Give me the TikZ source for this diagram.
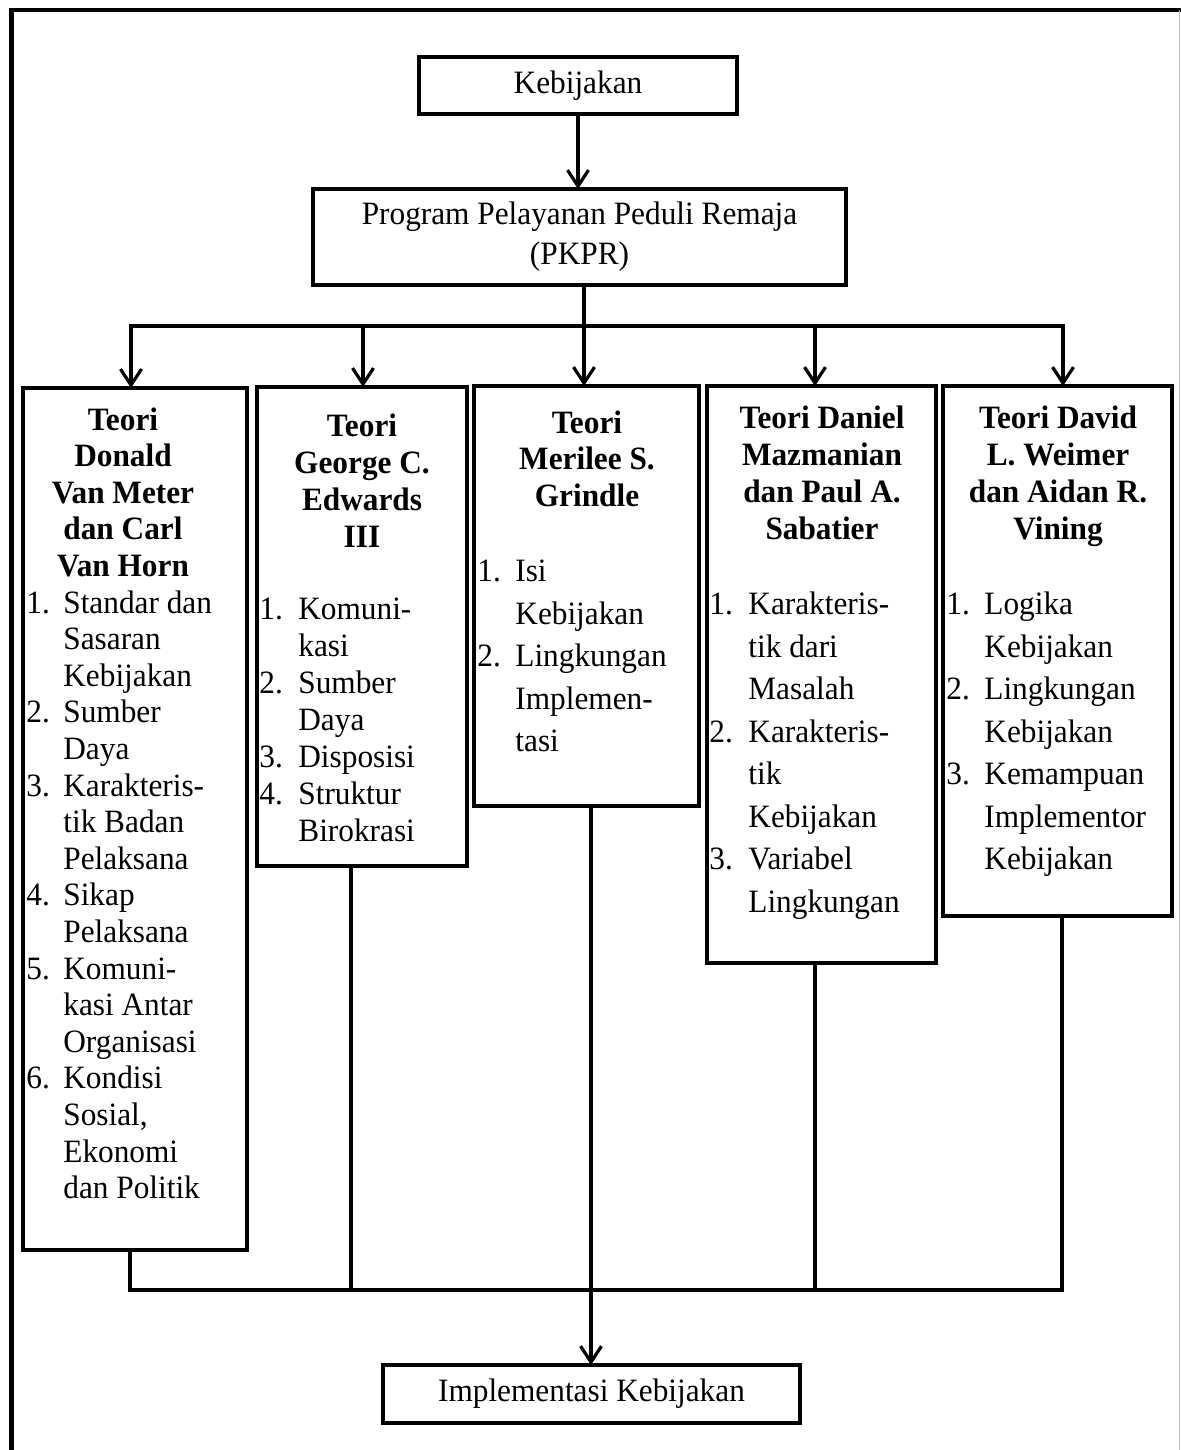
\documentclass[tikz,border=0pt]{standalone}
\usepackage{fontspec}
\setmainfont{Liberation Serif}[FakeStretch=0.96]
\usetikzlibrary{arrows.meta}
\begin{document}
\begin{tikzpicture}[x=0.5pt,y=-0.5pt,
  box/.style={draw, line width=1.8pt, inner sep=0pt, outer sep=0pt, rectangle},
  conn/.style={line width=1.6pt, line cap=rect},
  arr/.style={line width=1.6pt, -{Straight Barb[length=8pt,width=10.5pt]}},
  ttl/.style={inner sep=0pt, anchor=base, font=\fontsize{16.3pt}{#1}\selectfont\bfseries},
  ttl/.default=18.3pt,
  lst/.style={inner sep=0pt, anchor=base west, font=\fontsize{16.3pt}{#1}\selectfont},
  lst/.default=18.3pt,
  plain/.style={font=\fontsize{16.3pt}{20pt}\selectfont, align=center}]
\useasboundingbox (0,0) rectangle (1181,1450);
% outer frame
\draw[line width=2.2pt, line join=miter] (11.5,1450) -- (11.5,10) -- (1181,10);
\draw[gray!50, line width=0.6pt] (1179.5,10) -- (1179.5,1450);

% boxes
\node[box, plain, minimum width=159pt, minimum height=28.5pt] (k) at (578,85.5) {Kebijakan};
\node[box, plain, minimum width=266.5pt, minimum height=48pt] (p) at (579.5,237) {Program Pelayanan Peduli Remaja\\(PKPR)};
\node[box, minimum width=112pt, minimum height=431pt] (b1) at (135,819) {};
\node[box, minimum width=105pt, minimum height=239.5pt] (b2) at (362,626.5) {};
\node[box, minimum width=112.5pt, minimum height=210pt] (b3) at (586.5,596) {};
\node[box, minimum width=114.5pt, minimum height=288.5pt] (b4) at (821.5,674.5) {};
\node[box, minimum width=114.5pt, minimum height=265pt] (b5) at (1057.5,651) {};
\node[box, plain, minimum width=208.5pt, minimum height=29pt] (im) at (591.5,1394) {Implementasi Kebijakan};

% titles
\node[ttl] (h1) at (123,430) {\begin{tabular}[t]{@{}c@{}}Teori\\Donald\\Van Meter\\dan Carl\\Van Horn\end{tabular}};
\node[ttl=18.5pt] (h2) at (362,436) {\begin{tabular}[t]{@{}c@{}}Teori\\George C.\\Edwards\\III\end{tabular}};
\node[ttl=18.25pt] (h3) at (587,433) {\begin{tabular}[t]{@{}c@{}}Teori\\Merilee S.\\Grindle\end{tabular}};
\node[ttl=18.5pt] (h4) at (822,428) {\begin{tabular}[t]{@{}c@{}}Teori Daniel\\Mazmanian\\dan Paul A.\\Sabatier\end{tabular}};
\node[ttl=18.5pt] (h5) at (1058,428) {\begin{tabular}[t]{@{}c@{}}Teori David\\L. Weimer\\dan Aidan R.\\Vining\end{tabular}};

% lists
\node[lst] (l1) at (26,613) {\begin{tabular}[t]{@{}p{18.5pt}@{}l@{}}
1. & Standar dan\\ & Sasaran\\ & Kebijakan\\
2. & Sumber\\ & Daya\\
3. & Karakteris-\\ & tik Badan\\ & Pelaksana\\
4. & Sikap\\ & Pelaksana\\
5. & Komuni-\\ & kasi Antar\\ & Organisasi\\
6. & Kondisi\\ & Sosial,\\ & Ekonomi\\ & dan Politik\end{tabular}};
\node[lst=18.5pt] (l2) at (259,619) {\begin{tabular}[t]{@{}p{19.5pt}@{}l@{}}
1. & Komuni-\\ & kasi\\
2. & Sumber\\ & Daya\\
3. & Disposisi\\
4. & Struktur\\ & Birokrasi\end{tabular}};
\node[lst=21.25pt] (l3) at (477,581.7) {\begin{tabular}[t]{@{}p{19pt}@{}l@{}}
1. & Isi\\ & Kebijakan\\
2. & Lingkungan\\ & Implemen-\\ & tasi\end{tabular}};
\node[lst=21.25pt] (l4) at (709,614.5) {\begin{tabular}[t]{@{}p{19.5pt}@{}l@{}}
1. & Karakteris-\\ & tik dari\\ & Masalah\\
2. & Karakteris-\\ & tik\\ & Kebijakan\\
3. & Variabel\\ & Lingkungan\end{tabular}};
\node[lst=21.25pt] (l5) at (946,614.5) {\begin{tabular}[t]{@{}p{19pt}@{}l@{}}
1. & Logika\\ & Kebijakan\\
2. & Lingkungan\\ & Kebijakan\\
3. & Kemampuan\\ & Implementor\\ & Kebijakan\end{tabular}};

% top connectors
\coordinate (t1) at (131,326);
\coordinate (t2) at (363,326);
\coordinate (t3) at (584,326);
\coordinate (t4) at (815,326);
\coordinate (t5) at (1063,326);
\draw[arr] (k.south) -- (k.south |- p.north);
\draw[conn] (p.south -| t3) -- (t3);
\draw[conn] (t1) -- (t5);
\draw[arr] (t1) -- (t1 |- b1.north);
\draw[arr] (t2) -- (t2 |- b2.north);
\draw[arr] (t3) -- (t3 |- b3.north);
\draw[arr] (t4) -- (t4 |- b4.north);
\draw[arr] (t5) -- (t5 |- b5.north);

% bottom connectors
\coordinate (u1) at (130,1290);
\coordinate (u2) at (351,1290);
\coordinate (u3) at (591,1290);
\coordinate (u4) at (815,1290);
\coordinate (u5) at (1062,1290);
\draw[conn] (b1.south -| u1) -- (u1);
\draw[conn] (b2.south -| u2) -- (u2);
\draw[conn] (b4.south -| u4) -- (u4);
\draw[conn] (b5.south -| u5) -- (u5);
\draw[conn] (u1) -- (u5);
\draw[arr] (b3.south -| u3) -- (u3 |- im.north);
\end{tikzpicture}
\end{document}
